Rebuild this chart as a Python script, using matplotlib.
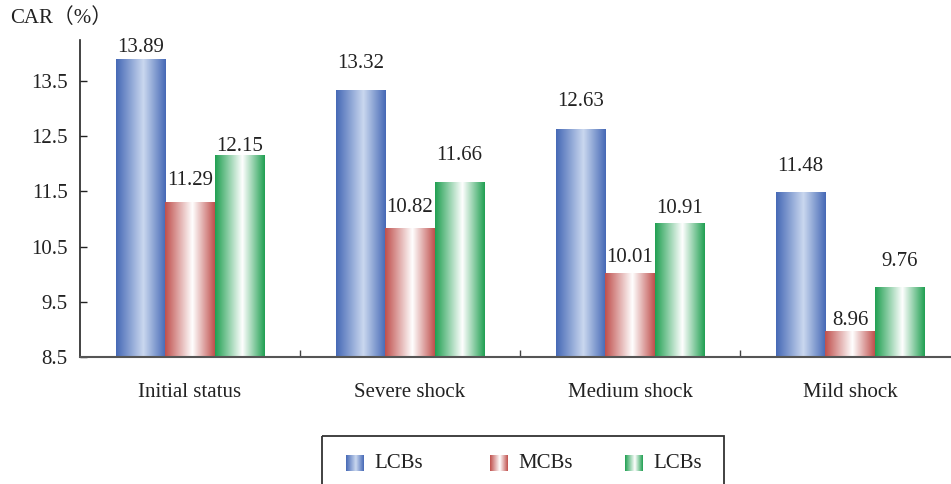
import numpy as np
import matplotlib
matplotlib.use('Agg')
import matplotlib.pyplot as plt
from matplotlib.colors import LinearSegmentedColormap
from matplotlib.patches import Rectangle

# --- DATA ---
SCENARIOS = ['Initial status', 'Severe shock', 'Medium shock', 'Mild shock']
SERIES_NAMES = ['LCBs', 'MCBs', 'LCBs']
LCB_VALUES = [13.89, 13.32, 12.63, 11.48]
MCB_VALUES = [11.29, 10.82, 10.01, 8.96]
LCB2_VALUES = [12.15, 11.66, 10.91, 9.76]
Y_TICKS = [8.5, 9.5, 10.5, 11.5, 12.5, 13.5]

# --- STYLE ---
# (edge colour, centre highlight colour) for the bar gradients
GRADIENTS = [('#4669b6', '#cad8ef'), ('#c0504d', '#ffffff'), ('#21a052', '#ffffff')]
# label gap above each bar top, in pixels (per group, per series)
LABEL_GAPS = [[12, 22, 9], [27, 21, 27], [28, 16, 15], [26, 11, 26]]
SERIF = ['Liberation Serif', 'DejaVu Serif']
FS = 15

plt.rcParams['font.family'] = SERIF
plt.rcParams['font.size'] = FS


def make_cmap(edge, light):
    return LinearSegmentedColormap.from_list('g', [edge, light, edge])


def gradient_row(n=200, peak=0.55):
    t = np.linspace(0, 1, n)
    g = np.where(t < peak, t / peak * 0.5, 0.5 + (t - peak) / (1 - peak) * 0.5)
    return g[np.newaxis, :]


W, H = 951, 484
fig = plt.figure(figsize=(W / 100, H / 100), dpi=100)
ax = fig.add_axes([80 / W, 1 - 357 / H, 880 / W, 317 / H])

ymin, ymax = 8.5, 8.5 + 317 / 55.2
x = np.arange(len(SCENARIOS))
width = 0.225
grad = gradient_row()

for k, vals in enumerate([LCB_VALUES, MCB_VALUES, LCB2_VALUES]):
    bars = ax.bar(x + (k - 1) * width, np.array(vals) - ymin, width, bottom=ymin,
                  color='none', edgecolor='none')
    cmap = make_cmap(*GRADIENTS[k])
    for i, rect in enumerate(bars):
        x0 = rect.get_x()
        ax.imshow(grad, extent=(x0, x0 + rect.get_width(), ymin, vals[i]),
                  aspect='auto', cmap=cmap, vmin=0, vmax=1, zorder=2,
                  interpolation='bilinear')
        ax.annotate(f'{vals[i]:.2f}', (x0 + rect.get_width() / 2, vals[i]),
                    xytext=(0, LABEL_GAPS[i][k] * 0.72), textcoords='offset points',
                    ha='center', va='center', fontsize=FS, color='#222222')

ax.set_xlim(-0.5, 3.5)
ax.set_ylim(ymin, ymax)

ax.set_yticks(Y_TICKS)
ax.set_yticklabels([f'{v:.1f}' for v in Y_TICKS])
ax.tick_params(axis='y', direction='in', length=5, width=1, pad=9, colors='#222222')

ax.set_xticks(x)
ax.set_xticklabels(SCENARIOS)
ax.tick_params(axis='x', which='major', length=0, pad=19, colors='#222222')
ax.set_xticks([0.5, 1.5, 2.5], minor=True)
ax.tick_params(axis='x', which='minor', direction='in', length=5, width=1, color='#444444')

for s in ['top', 'right']:
    ax.spines[s].set_visible(False)
ax.spines['left'].set_linewidth(1.2)
ax.spines['left'].set_color('#222222')
ax.spines['bottom'].set_linewidth(1.5)
ax.spines['bottom'].set_color('#555555')

fig.text(10 / W, 1 - 18 / H, 'CAR（%）', ha='left', va='center', fontsize=FS,
         family=['Liberation Serif', 'Noto Sans CJK SC'], color='#222222')

# --- LEGEND (drawn by hand in a pixel overlay) ---
lax = fig.add_axes([0, 0, 1, 1], zorder=5)
lax.set_xlim(0, W)
lax.set_ylim(H, 0)
lax.axis('off')
lax.add_patch(Rectangle((322, 436), 402, 70, fill=False, edgecolor='#333333',
                        linewidth=1.3, clip_on=False))
legend_x = [346, 490, 625]
for k, name in enumerate(SERIES_NAMES):
    lx = legend_x[k]
    lax.imshow(grad, extent=(lx, lx + 18, 471, 455), aspect='auto',
               cmap=make_cmap(*GRADIENTS[k]), vmin=0, vmax=1, interpolation='bilinear')
    lax.text(lx + 28, 463, name, ha='left', va='center', fontsize=FS, color='#222222')
lax.set_xlim(0, W)
lax.set_ylim(H, 0)

fig.savefig('out.png', dpi=100)
